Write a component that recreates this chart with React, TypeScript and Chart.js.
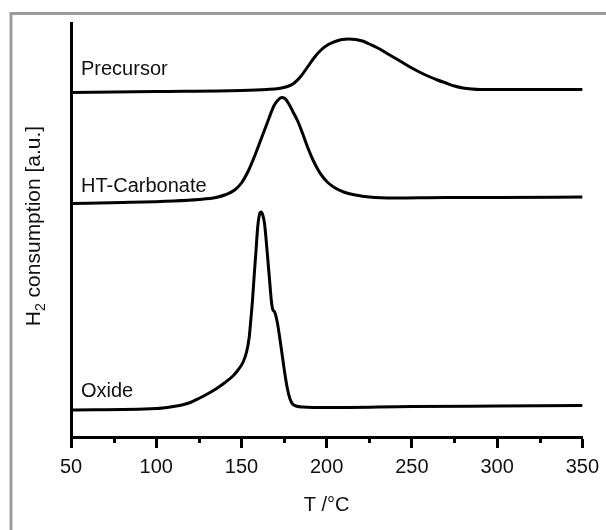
import React, { useEffect, useRef } from "react";
import { Chart, registerables } from "chart.js";

Chart.register(...registerables);

// Temperature axis
const xMin = 50;
const xMax = 350;
const xMajorStep = 50;
const xMinorTicks = [75, 125, 175, 225, 275, 325];

// H2 consumption traces (a.u., vertically offset)
const precursorT = [50, 100, 150, 165, 172, 177, 181, 185, 189, 193, 197, 201, 205, 209, 213, 217, 221, 225, 230, 235, 240, 245, 250, 255, 260, 265, 270, 275, 280, 285, 290, 320, 350];
const precursorY = [344.5, 345.5, 346.5, 347.5, 348.5, 350.5, 354, 361, 370.5, 380, 387.5, 392.5, 395.5, 397.5, 398, 397.5, 396, 393, 389, 384, 379, 374, 369, 364.5, 360.5, 357, 354, 351, 349, 348, 347.5, 347.5, 347.5];

const htCarbonateT = [50, 80, 110, 125, 135, 141, 146, 150, 154, 158, 162, 166, 169, 171.5, 173.5, 175.5, 177.5, 180, 183, 186, 189, 192, 195, 198, 201, 205, 210, 217, 225, 240, 270, 300, 350];
const htCarbonateY = [233.5, 234.5, 236, 237.5, 239.5, 242.5, 247, 254, 266, 282, 300, 318, 331, 337, 339.5, 338.5, 334, 326, 316, 303, 289, 277, 267, 259.5, 254, 249, 245, 242, 240, 239, 239.5, 239.5, 240];

const oxideT = [50, 100, 110, 115, 120, 125, 130, 135, 140, 145, 148, 151, 153, 154.5, 155.5, 156.5, 157.5, 158.5, 159.5, 160.5, 161.5, 162.5, 163.5, 164.5, 165.5, 166.5, 167.5, 168.3, 169.5, 171, 172.5, 174, 175.5, 177, 178.5, 180, 182, 186, 200, 250, 300, 350];
const oxideY = [27, 28.5, 30.5, 32, 34.5, 38.5, 43, 48, 54, 61, 67, 75, 85, 99, 117, 137, 162, 185, 209, 222, 225, 222, 214, 197, 177, 157, 137, 128, 125, 115, 99, 81, 63, 48, 38, 33, 31, 30, 29.5, 30.5, 31, 31.5];

const yMin = 0;
const yMax = 414;

// Trace names and the level of each name's text baseline
const traceNames = ["Precursor", "HT-Carbonate", "Oxide"];
const traceNameLevels = [362, 245, 40];

const FONT = '"Liberation Sans", Arial, sans-serif';

const toPoints = (xs: number[], ys: number[]) => xs.map((x, i) => ({ x, y: ys[i] }));

const decorPlugin = {
  id: "decor",
  beforeDraw(chart: any) {
    const { ctx, width, height } = chart;
    ctx.save();
    ctx.fillStyle = "#ffffff";
    ctx.fillRect(0, 0, width, height);
    ctx.strokeStyle = "#9c9c9c";
    ctx.lineWidth = 3;
    ctx.strokeRect(11, 13.5, width + 40, height + 40);
    ctx.restore();
  },
  afterDraw(chart: any) {
    const { ctx, chartArea } = chart;
    const xs = chart.scales.x;
    const ys = chart.scales.y;
    ctx.save();

    // minor ticks
    ctx.strokeStyle = "#000";
    ctx.lineWidth = 3;
    ctx.beginPath();
    for (const v of xMinorTicks) {
      const px = Math.round(xs.getPixelForValue(v)) + 0.5;
      ctx.moveTo(px, chartArea.bottom);
      ctx.lineTo(px, chartArea.bottom + 6);
    }
    ctx.stroke();

    // trace names
    ctx.fillStyle = "#111";
    ctx.font = `20px ${FONT}`;
    ctx.textAlign = "left";
    ctx.textBaseline = "alphabetic";
    traceNames.forEach((name, i) => {
      ctx.fillText(name, chartArea.left + 10, ys.getPixelForValue(traceNameLevels[i]));
    });

    // y-axis title with subscript
    const big = `21px ${FONT}`;
    const small = `14px ${FONT}`;
    ctx.font = big;
    const wH = ctx.measureText("H").width;
    const rest = " consumption [a.u.]";
    const wRest = ctx.measureText(rest).width;
    ctx.font = small;
    const w2 = ctx.measureText("2").width;
    const total = wH + w2 + wRest;
    const cx = 34;
    const cy = 226;
    ctx.translate(cx, cy);
    ctx.rotate(-Math.PI / 2);
    ctx.textBaseline = "middle";
    let tx = -total / 2;
    ctx.font = big;
    ctx.fillText("H", tx, 0);
    tx += wH;
    ctx.font = small;
    ctx.fillText("2", tx, 7);
    tx += w2;
    ctx.font = big;
    ctx.fillText(rest, tx, 0);
    ctx.restore();
  },
};

export default function App() {
  const canvasRef = useRef<HTMLCanvasElement | null>(null);

  useEffect(() => {
    document.body.style.margin = "0";
    const canvas = canvasRef.current;
    if (!canvas) return;

    const lineStyle = {
      borderColor: "#000",
      borderWidth: 3,
      pointRadius: 0,
      fill: false,
      cubicInterpolationMode: "monotone" as const,
      borderCapStyle: "round" as const,
      borderJoinStyle: "round" as const,
    };

    const chart = new Chart(canvas, {
      type: "line",
      data: {
        datasets: [
          { label: traceNames[0], data: toPoints(precursorT, precursorY), ...lineStyle },
          { label: traceNames[1], data: toPoints(htCarbonateT, htCarbonateY), ...lineStyle },
          { label: traceNames[2], data: toPoints(oxideT, oxideY), ...lineStyle },
        ],
      },
      options: {
        animation: false,
        responsive: false,
        devicePixelRatio: 1,
        layout: { padding: { top: 23, right: 19, left: 0, bottom: 0 } },
        plugins: {
          legend: { display: false },
          tooltip: { enabled: false },
        },
        scales: {
          x: {
            type: "linear",
            min: xMin,
            max: xMax,
            ticks: {
              stepSize: xMajorStep,
              color: "#111",
              font: { family: FONT, size: 20 },
              padding: 7,
              maxRotation: 0,
              autoSkip: false,
            },
            grid: {
              display: true,
              drawOnChartArea: false,
              drawTicks: true,
              tickLength: 11,
              tickWidth: 3,
              tickColor: "#000",
            },
            border: { display: true, color: "#000", width: 3 },
            title: {
              display: true,
              text: "T /°C",
              color: "#111",
              font: { family: FONT, size: 20 },
              padding: { top: 0, bottom: 13 },
            },
            afterFit: (scale: any) => {
              scale.height = 93;
            },
          },
          y: {
            type: "linear",
            min: yMin,
            max: yMax,
            ticks: { display: false },
            grid: { display: false },
            border: { display: true, color: "#000", width: 3 },
            afterFit: (scale: any) => {
              scale.width = 71;
            },
          },
        },
      },
      plugins: [decorPlugin],
    });

    return () => chart.destroy();
  }, []);

  return (
    <div style={{ width: 606, height: 530 }}>
      <canvas ref={canvasRef} width={606} height={530} style={{ display: "block" }} />
    </div>
  );
}
